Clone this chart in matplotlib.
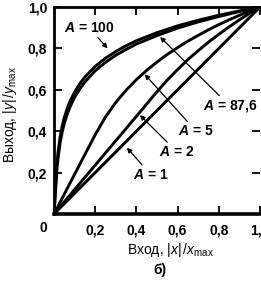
import matplotlib
matplotlib.use("Agg")
import matplotlib.pyplot as plt

plt.rcParams['font.family'] = ['Liberation Sans', 'DejaVu Sans']
plt.rcParams['mathtext.fontset'] = 'custom'
plt.rcParams['mathtext.rm'] = 'Liberation Sans'
plt.rcParams['mathtext.it'] = 'Liberation Sans:italic'
plt.rcParams['mathtext.bf'] = 'Liberation Sans:bold:italic'

# companding curves
x_lin = [0.0, 0.1, 0.2, 0.3, 0.4, 0.5, 0.55, 0.6, 0.65, 0.7, 0.75, 0.8,
         0.85, 0.9, 0.95, 1.0]
y_a1 = [0.0, 0.1, 0.2, 0.3, 0.4, 0.5, 0.55, 0.6, 0.65, 0.7, 0.75, 0.8,
        0.85, 0.9, 0.95, 1.0]
y_a2 = [0.0, 0.118, 0.236, 0.354, 0.472, 0.591, 0.647, 0.698, 0.746, 0.789,
        0.830, 0.868, 0.904, 0.938, 0.970, 1.0]

x_a5 = [0.0, 0.1, 0.2, 0.25, 0.3, 0.35, 0.4, 0.45, 0.5, 0.55, 0.6, 0.65,
        0.7, 0.75, 0.8, 0.85, 0.9, 0.95, 1.0]
y_a5 = [0.0, 0.192, 0.383, 0.469, 0.539, 0.598, 0.649, 0.694, 0.734, 0.771,
        0.804, 0.835, 0.863, 0.890, 0.915, 0.938, 0.960, 0.980, 1.0]

x_log = [0.0, 0.005, 0.01, 0.015, 0.02, 0.03, 0.04, 0.05, 0.065, 0.08, 0.1,
         0.125, 0.15, 0.2, 0.25, 0.3, 0.35, 0.4, 0.5, 0.6, 0.7, 0.8, 0.9, 1.0]
y_a100 = [0.0, 0.089, 0.178, 0.251, 0.302, 0.374, 0.426, 0.466, 0.513, 0.550,
          0.589, 0.629, 0.662, 0.713, 0.753, 0.785, 0.813, 0.837, 0.876,
          0.909, 0.936, 0.960, 0.981, 1.0]
y_a876 = [0.0, 0.076, 0.150, 0.225, 0.272, 0.345, 0.397, 0.438, 0.485, 0.522,
          0.564, 0.604, 0.638, 0.692, 0.733, 0.767, 0.795, 0.821, 0.862,
          0.898, 0.928, 0.954, 0.978, 1.0]

ticks = [0.2, 0.4, 0.6, 0.8]
tick_labels = ['0,2', '0,4', '0,6', '0,8']

fig = plt.figure(figsize=(2.61, 2.86), dpi=100)
ax = fig.add_axes([54/261, 72/286, 206/261, 207/286])

lw = 2.1
ax.plot(x_lin, y_a1, color='black', lw=lw)
ax.plot(x_lin, y_a2, color='black', lw=lw)
ax.plot(x_a5, y_a5, color='black', lw=lw)
ax.plot(x_log, y_a100, color='black', lw=lw)
ax.plot(x_log, y_a876, color='black', lw=lw)

ax.set_xlim(0, 1)
ax.set_ylim(0, 1)
ax.set_xticks(ticks + [1.0])
ax.set_xticklabels(tick_labels + ['1,0'], fontweight='bold')
ax.set_yticks(ticks + [1.0])
ax.set_yticklabels(tick_labels + ['1,0'], fontweight='bold')
ax.tick_params(direction='in', length=6, width=1.3, labelsize=10,
               top=True, right=True, pad=5)
ax.tick_params(axis='x', pad=7)
for s in ['left', 'top']:
    ax.spines[s].set_linewidth(2)
ax.spines['bottom'].set_linewidth(2.6)
ax.spines['right'].set_visible(False)

fig.text(43/261, 1 - 228/286, '0', fontsize=10, fontweight='bold',
         ha='center', va='center')

fig.text(170/261, 1 - 250/286, r'Вход, $|x|\,/x_{\rm max}$', fontsize=10,
         ha='center', va='center')
fig.text(10/261, 1 - 115/286, r'Выход, $|y|\,/y_{\rm max}$', fontsize=10,
         ha='center', va='center', rotation=90)
fig.text(160/261, 1 - 270/286, 'б)', fontsize=10, fontweight='bold',
         ha='center', va='center')

arrow = dict(arrowstyle='-|>', color='black', lw=0.9, shrinkA=0, shrinkB=0,
             mutation_scale=7)
ax.annotate(r'$\mathbf{A}$ = 100', xy=(0.26, 0.80), xytext=(0.17, 0.90),
            fontsize=10, fontweight='bold', ha='center', va='center',
            arrowprops=arrow)
ax.annotate(r'$\mathbf{A}$ = 87,6', xy=(0.515, 0.855), xytext=(0.855, 0.52),
            fontsize=10, fontweight='bold', ha='center', va='center',
            arrowprops=arrow)
ax.annotate(r'$\mathbf{A}$ = 5', xy=(0.44, 0.675), xytext=(0.69, 0.40),
            fontsize=10, fontweight='bold', ha='center', va='center',
            arrowprops=arrow)
ax.annotate(r'$\mathbf{A}$ = 2', xy=(0.417, 0.478), xytext=(0.597, 0.30),
            fontsize=10, fontweight='bold', ha='center', va='center',
            arrowprops=arrow)
ax.annotate(r'$\mathbf{A}$ = 1', xy=(0.354, 0.32), xytext=(0.47, 0.19),
            fontsize=10, fontweight='bold', ha='center', va='center',
            arrowprops=arrow)

fig.savefig('out.png', dpi=100)
